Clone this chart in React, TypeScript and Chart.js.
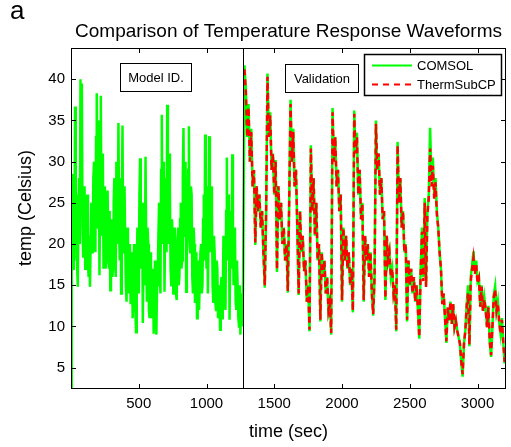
import React, { useEffect, useRef } from "react";
import { Chart, registerables } from "chart.js";

Chart.register(...registerables);

// ---- data ----
const MODEL_ID_STEP = 5; // seconds between samples (model ID segment)
const VALIDATION_STEP = 10; // seconds between samples (validation segment)
const MODEL_ID_START = 0;
const VALIDATION_START = 1280;
const SPLIT_TIME = 1272;
const X_MIN = 0;
const X_MAX = 3210;
const Y_MIN = 2.4;
const Y_MAX = 43.8;
const xTicks = [500, 1000, 1500, 2000, 2500, 3000];
const yTicks = [5, 10, 15, 20, 25, 30, 35, 40];

const TITLE = "Comparison of Temperature Response Waveforms";
const X_LABEL = "time (sec)";
const Y_LABEL = "temp (Celsius)";
const PANEL_LETTER = "a";
const SERIES_NAMES = ["COMSOL", "ThermSubCP"];
const REGION_LABELS = ["Model ID.", "Validation"];

// COMSOL, model identification segment (t = 0 .. 1270 s, every 5 s)
const modelIdComsol = [
  2.5, 18, 28.5, 17, 24, 18, 36.7, 21, 26, 17.5, 14.8, 24, 28, 20, 40, 24, 39.5, 22, 18.5, 26,
  27, 17, 20, 25, 26, 18, 16, 21, 14.8, 20, 25, 19, 20, 28, 30, 20, 19, 33, 38.3, 24,
  22, 35, 16.2, 27, 38, 21, 24, 31, 17, 22, 27, 17, 18, 25, 26.5, 19, 17, 24, 14.4, 19,
  23, 16, 17, 25, 28, 19, 16, 30, 25, 20, 34.7, 22, 18, 28, 14, 24, 34.4, 19, 20, 27,
  20, 15, 13, 22, 21, 14, 15, 20, 12.7, 17, 19, 11, 14, 20, 17, 12, 9.3, 16, 22, 15,
  14, 26, 30.4, 17, 18, 25, 10.4, 20, 24, 15, 30.6, 20, 13, 22, 20, 12, 11, 19, 17, 11,
  12, 17, 9.1, 14, 18, 12, 9, 15, 16, 21, 25, 17, 14, 29, 35.7, 20, 22, 30, 14.2, 24,
  28, 19, 36.9, 23, 20, 31, 26, 17, 15, 23, 21, 14, 15, 22, 19, 14, 13.2, 20, 22, 15,
  16, 23, 25, 17, 18, 28, 34.1, 21, 24, 30, 14.2, 20, 22, 29, 34.3, 20, 19, 27, 26, 16,
  14, 22, 20, 13, 13, 19, 11, 17, 18, 12, 12, 19, 20, 14, 15, 23, 26, 18, 33.3, 22,
  17, 27, 14, 22, 33.1, 19, 20, 27, 24, 15, 13, 21, 19, 13, 12, 18, 17, 11, 11, 15,
  9.6, 14, 16, 11, 13, 21, 20, 14, 12, 24, 30.5, 18, 19, 26, 10.8, 19, 24, 17, 30.9, 21,
  15, 22, 21, 13, 12, 18, 18, 11, 10, 15, 9, 13, 14, 10, 16,
];

// COMSOL, validation segment (t = 1280 .. 3210 s, every 10 s)
const validationComsol = [
  41.7, 38.9, 33, 37, 30, 34, 27, 29, 19.9, 27, 24, 26, 22, 24, 19, 14.7,
  24, 40.7, 33, 36, 29, 31, 26, 30.2, 16.6, 27, 23, 25, 20, 22, 18, 20, 14.1,
  25, 37.5, 30, 34, 27, 29, 22, 13.8, 24, 19, 21, 16.7, 18, 13, 15, 9.4,
  32, 24, 28, 21, 25, 18, 20, 10.6, 19, 16, 18, 14, 16, 12, 13, 9,
  36.5, 30, 33, 27, 29, 24, 26, 13, 22, 18, 21, 17, 19, 15, 17, 11.7,
  36.2, 31, 33.5, 26, 29, 23, 25, 13, 21, 18, 20, 16, 19, 14, 11.3, 16,
  35, 29, 31, 26, 28, 23, 24, 13.2, 21, 18, 19, 16, 17, 14, 15, 9.4,
  32.4, 25, 28, 22, 24, 19, 20, 10.6, 18, 15, 17, 14, 16, 13, 15, 12,
  8.5, 17, 22, 16, 25.6, 15, 24, 26, 34.1, 28, 30.5, 26, 28, 24, 22, 19, 17, 12.7, 14, 11, 8,
  12.3, 10.7, 13, 10.3, 12.7, 9.9, 10.7, 9.5, 8.7, 7.9, 5.5, 3.9, 7.9,
  9.5, 12.7, 15, 7.6, 16, 17.5, 19.1, 16.7, 18, 15.5, 16, 12.4, 15, 11.9, 13.5, 12,
  9.9, 12.5, 8, 6.3, 10, 13.9, 14.9, 11.9, 13, 10.5, 9.1, 11, 8, 5.5, 7,
];

// ThermSubCP, validation segment (t = 1280 .. 3210 s, every 10 s)
const validationThermSubCP = [
  41.2, 38.5, 33, 36.6, 30, 33.6, 27, 29, 20.2, 27, 24, 26, 22, 24, 19, 15,
  24, 40.3, 33, 35.6, 29, 31, 26, 30, 16.9, 27, 23, 25, 20, 22, 18, 20, 14.3,
  25, 37, 30, 33.6, 27, 29, 22, 14, 24, 19, 21, 16.7, 18, 13, 15, 9.6,
  31.6, 24, 28, 21, 25, 18, 20, 10.8, 19, 16, 18, 14, 16, 12, 13, 9.2,
  36, 30, 33, 27, 29, 24, 26, 13.2, 22, 18, 21, 17, 19, 15, 17, 11.9,
  35.8, 31, 33, 26, 29, 23, 25, 13.2, 21, 18, 20, 16, 19, 14, 11.5, 16,
  34.6, 29, 31, 26, 28, 23, 24, 13.4, 21, 18, 19, 16, 17, 14, 15, 9.6,
  32, 25, 28, 22, 24, 19, 20, 10.8, 18, 15, 17, 14, 16, 13, 15, 12,
  8.7, 16.5, 21.5, 15.5, 25, 14.8, 23.5, 25.5, 31.6, 27, 29.5, 25.5, 27.5, 23.5, 22, 19, 17, 12.7, 14, 11, 8.2,
  12.3, 10.7, 13, 10.3, 12.7, 9.9, 10.7, 9.5, 8.7, 7.9, 5.7, 4.2, 7.9,
  9.5, 12.5, 14, 7.8, 15.5, 17, 18.3, 16.3, 17.5, 15.2, 15.8, 12.4, 14.8, 11.9, 13.3, 12,
  9.9, 12.3, 8.2, 6.5, 10, 13.6, 14.5, 11.9, 12.8, 10.5, 9.1, 10.8, 8, 5.7, 7,
];

const FONT = '"Liberation Sans", Arial, Helvetica, sans-serif';
const GREEN = "#00ff00";
const RED = "#ff0000";

const toPoints = (vals: number[], start: number, step: number) =>
  vals.map((v, i) => ({ x: start + i * step, y: v }));

const decorPlugin = {
  id: "decor",
  afterDraw(chart: any) {
    const { ctx, chartArea: a, scales } = chart;
    const xs = scales.x;
    const ys = scales.y;
    ctx.save();
    ctx.strokeStyle = "#000";
    ctx.lineWidth = 1;
    const line = (x1: number, y1: number, x2: number, y2: number) => {
      ctx.beginPath();
      ctx.moveTo(x1, y1);
      ctx.lineTo(x2, y2);
      ctx.stroke();
    };
    // split line
    const sx = Math.round(xs.getPixelForValue(SPLIT_TIME)) + 0.5;
    line(sx, a.top, sx, a.bottom);
    // frame
    ctx.strokeRect(a.left + 0.5, a.top + 0.5, a.right - a.left - 1, a.bottom - a.top - 1);
    // inward ticks
    const TL = 5;
    xTicks.forEach((t) => {
      const px = Math.round(xs.getPixelForValue(t)) + 0.5;
      line(px, a.bottom, px, a.bottom - TL);
      line(px, a.top, px, a.top + TL);
    });
    yTicks.forEach((t) => {
      const py = Math.round(ys.getPixelForValue(t)) + 0.5;
      line(a.left, py, a.left + TL, py);
      line(a.right, py, a.right - TL, py);
    });

    // region label boxes
    ctx.font = `13px ${FONT}`;
    ctx.textBaseline = "middle";
    ctx.textAlign = "center";
    const box = (x: number, y: number, w: number, h: number, text: string) => {
      ctx.fillStyle = "#fff";
      ctx.fillRect(x, y, w, h);
      ctx.strokeRect(x + 0.5, y + 0.5, w - 1, h - 1);
      ctx.fillStyle = "#000";
      ctx.fillText(text, x + w / 2, y + h / 2 + 1);
    };
    box(a.left + 49, a.top + 15, 72, 29, REGION_LABELS[0]);
    box(a.left + 214, a.top + 16, 74, 29, REGION_LABELS[1]);

    // legend
    const lx = a.left + 293;
    const ly = a.top + 6;
    const lw = 138;
    const lh = 42;
    ctx.fillStyle = "#fff";
    ctx.fillRect(lx, ly, lw, lh);
    ctx.lineWidth = 1.5;
    ctx.strokeRect(lx + 0.5, ly + 0.5, lw - 1, lh - 1);
    ctx.lineWidth = 2;
    ctx.strokeStyle = GREEN;
    line(lx + 8, ly + 11.5, lx + 48, ly + 11.5);
    ctx.strokeStyle = RED;
    ctx.setLineDash([6, 5]);
    line(lx + 8, ly + 30.5, lx + 48, ly + 30.5);
    ctx.setLineDash([]);
    ctx.fillStyle = "#000";
    ctx.textAlign = "left";
    ctx.fillText(SERIES_NAMES[0], lx + 53, ly + 12);
    ctx.fillText(SERIES_NAMES[1], lx + 53, ly + 31);

    // title, axis labels, panel letter
    const cx = (a.left + a.right) / 2;
    ctx.textAlign = "center";
    ctx.textBaseline = "alphabetic";
    ctx.font = `19px ${FONT}`;
    ctx.fillText(TITLE, cx, a.top - 11);
    ctx.font = `18px ${FONT}`;
    ctx.fillText(X_LABEL, cx, a.bottom + 48);
    ctx.save();
    ctx.translate(31, 208);
    ctx.rotate(-Math.PI / 2);
    ctx.fillText(Y_LABEL, 0, 0);
    ctx.restore();
    ctx.textAlign = "left";
    ctx.font = `26px ${FONT}`;
    ctx.fillText(PANEL_LETTER, 10, 19);
    ctx.restore();
  },
};

export default function App() {
  const ref = useRef<HTMLCanvasElement>(null);
  useEffect(() => {
    if (!ref.current) return;
    const comsol = [
      ...toPoints(modelIdComsol, MODEL_ID_START, MODEL_ID_STEP),
      ...toPoints(validationComsol, VALIDATION_START, VALIDATION_STEP),
    ];
    const therm = toPoints(validationThermSubCP, VALIDATION_START, VALIDATION_STEP);
    const tickFont = { family: FONT, size: 15 };
    const chart = new Chart(ref.current, {
      type: "line",
      data: {
        datasets: [
          {
            label: SERIES_NAMES[0],
            data: comsol,
            borderColor: GREEN,
            borderWidth: 2.5,
            pointRadius: 0,
            tension: 0,
            order: 2,
          },
          {
            label: SERIES_NAMES[1],
            data: therm,
            borderColor: RED,
            borderWidth: 2.5,
            borderDash: [6, 4],
            pointRadius: 0,
            tension: 0,
            order: 1,
          },
        ],
      },
      options: {
        responsive: false,
        animation: false,
        devicePixelRatio: 1,
        layout: { padding: { top: 48, right: 5, bottom: 0, left: 0 } },
        plugins: {
          legend: { display: false },
          title: { display: false },
          tooltip: { enabled: false },
        },
        scales: {
          x: {
            type: "linear",
            min: X_MIN,
            max: X_MAX,
            grid: { display: false, drawTicks: false },
            border: { display: false },
            ticks: {
              font: tickFont,
              color: "#000",
              padding: 6,
              autoSkip: false,
              maxRotation: 0,
              callback: (v: any) => String(v),
            },
            afterBuildTicks: (s: any) => {
              s.ticks = xTicks.map((v) => ({ value: v }));
            },
            afterFit: (s: any) => {
              s.height = 58;
            },
          },
          y: {
            type: "linear",
            min: Y_MIN,
            max: Y_MAX,
            grid: { display: false, drawTicks: false },
            border: { display: false },
            ticks: {
              font: tickFont,
              color: "#000",
              padding: 6,
              autoSkip: false,
              callback: (v: any) => String(v),
            },
            afterBuildTicks: (s: any) => {
              s.ticks = yTicks.map((v) => ({ value: v }));
            },
            afterFit: (s: any) => {
              s.width = 71;
            },
          },
        },
      },
      plugins: [decorPlugin],
    } as any);
    return () => chart.destroy();
  }, []);
  return (
    <div style={{ position: "absolute", left: 0, top: 0, width: 511, height: 447, background: "#fff" }}>
      <canvas ref={ref} width={511} height={447} style={{ display: "block", width: 511, height: 447 }} />
    </div>
  );
}
